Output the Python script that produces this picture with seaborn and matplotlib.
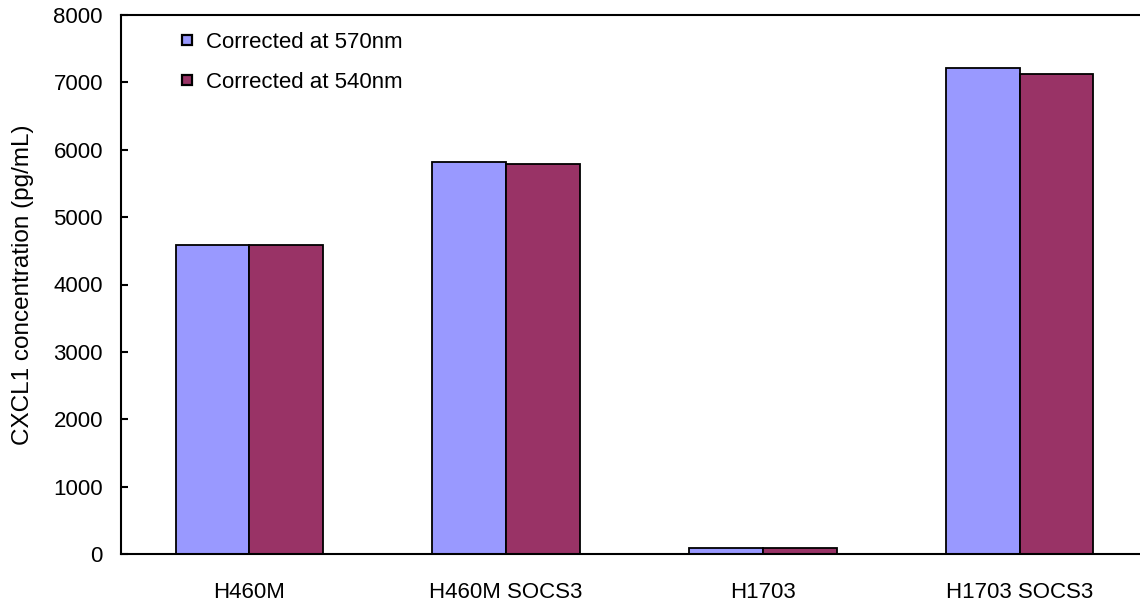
import pandas as pd
import numpy as np
import seaborn as sns
import matplotlib.pyplot as plt
from matplotlib.lines import Line2D

# values
cell_lines = ['H460M', 'H460M SOCS3', 'H1703', 'H1703 SOCS3']
corrected_570 = [4585, 5820, 95, 7220]
corrected_540 = [4585, 5795, 95, 7130]
series_names = ['Corrected at 570nm', 'Corrected at 540nm']
series_colors = ['#9999FF', '#993366']
y_ticks = [0, 1000, 2000, 3000, 4000, 5000, 6000, 7000, 8000]

df = pd.DataFrame({
    'cell': cell_lines * 2,
    'series': [series_names[0]] * len(cell_lines) + [series_names[1]] * len(cell_lines),
    'value': corrected_570 + corrected_540,
})

sns.set_style('white')
plt.rcParams['font.family'] = ['Liberation Sans', 'DejaVu Sans']
plt.rcParams['text.color'] = 'black'
plt.rcParams['axes.labelcolor'] = 'black'
plt.rcParams['xtick.color'] = 'black'
plt.rcParams['ytick.color'] = 'black'

W, H = 1140, 603
fig = plt.figure(figsize=(W / 100, H / 100), dpi=100)
# axes box in pixels: left 121, right 1148, top 15, bottom 554
ax = fig.add_axes([121 / W, (H - 554) / H, (1148 - 121) / W, (554 - 15) / H])

sns.barplot(data=df, x='cell', y='value', hue='series', order=cell_lines,
            hue_order=series_names, palette=series_colors, saturation=1,
            width=0.575, gap=0, edgecolor='black', linewidth=1.3,
            errorbar=None, legend=False, ax=ax)

ax.set_xlim(-0.5, 3.5)
ax.set_ylim(0, 8000)
ax.set_yticks(y_ticks)
ax.set_yticklabels([str(t) for t in y_ticks], fontsize=16)
ax.set_xticks([0.5, 1.5, 2.5], minor=True)
ax.tick_params(axis='x', which='major', length=0, pad=20, labelsize=16, labelcolor='black')
ax.tick_params(axis='x', which='minor', direction='in', length=6, width=1.5, color='black')
ax.tick_params(axis='y', direction='in', length=5, width=1.5, color='black', pad=13,
               left=True, labelcolor='black')

for side in ['left', 'bottom', 'top']:
    ax.spines[side].set_visible(True)
    ax.spines[side].set_color('black')
    ax.spines[side].set_linewidth(1.5)
ax.spines['right'].set_visible(False)

ax.set_xlabel('')
ax.set_ylabel('CXCL1 concentration (pg/mL)', fontsize=17.5, labelpad=14, color='black')

handles = [Line2D([], [], linestyle='none', marker='s', markersize=7.5,
                  markerfacecolor=c, markeredgecolor='black', markeredgewidth=1.6)
           for c in series_colors]
fig.legend(handles, series_names, loc='upper left',
           bbox_to_anchor=(180 / W, 1 - 32 / H), frameon=False, fontsize=16,
           handlelength=0.6, handletextpad=0.55, labelspacing=0.85,
           borderpad=0, borderaxespad=0, labelcolor='black')

fig.savefig('out.png', dpi=100)
